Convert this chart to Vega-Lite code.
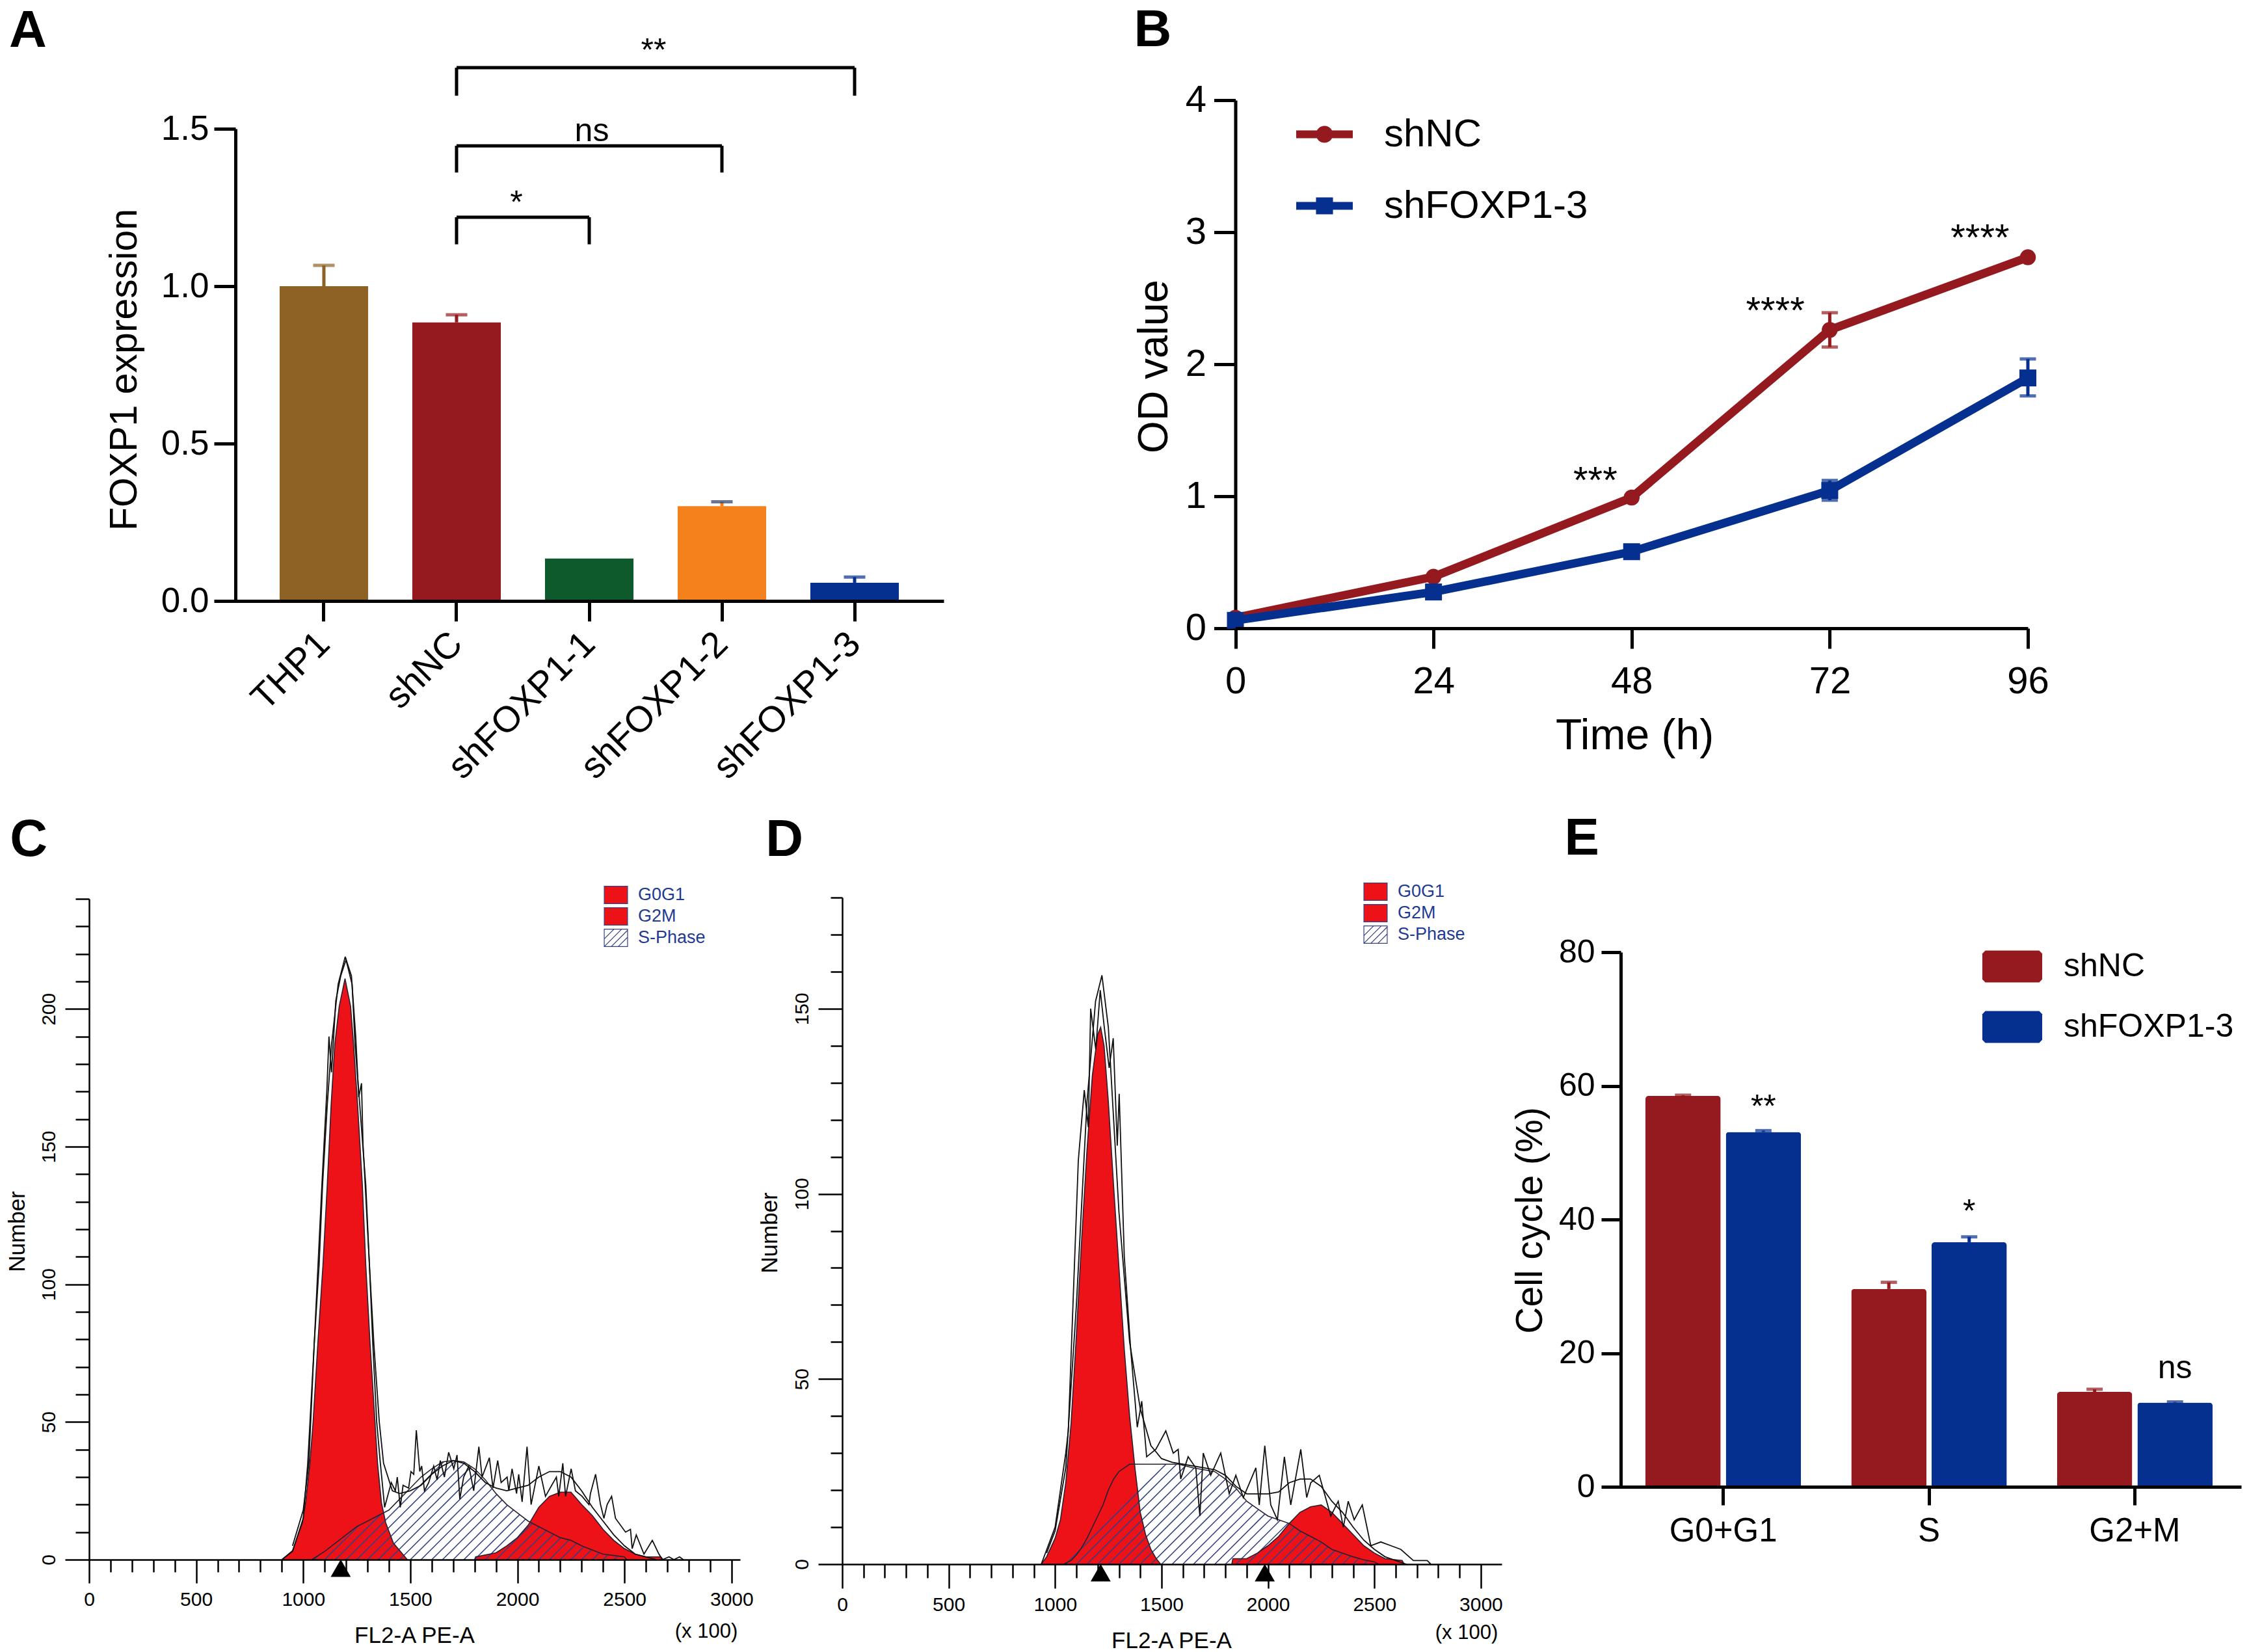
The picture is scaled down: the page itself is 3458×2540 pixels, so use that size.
{
  "$schema": "https://vega.github.io/schema/vega-lite/v6.json",
  "width": 3458, "height": 2540, "autosize": "none", "padding": 0, "background": "white",
  "config": {
    "view": {"stroke": null},
    "axis": {"grid": false, "domainColor": "#000", "tickColor": "#000", "labelColor": "#000", "titleColor": "#000",
      "labelFont": "Liberation Sans", "titleFont": "Liberation Sans", "titleFontWeight": "normal",
      "titleAlign": "center", "titleBaseline": "middle", "labelLimit": 800},
    "legend": {"labelFont": "Liberation Sans", "labelColor": "#000", "padding": 0, "labelLimit": 800},
    "text": {"font": "Liberation Sans", "color": "#000"}
  },
  "datasets": {
    "expr": [
      {"group": "THP1", "value": 1.0, "top": 1.066},
      {"group": "shNC", "value": 0.885, "top": 0.909},
      {"group": "shFOXP1-1", "value": 0.135, "top": 0.135},
      {"group": "shFOXP1-2", "value": 0.301, "top": 0.315},
      {"group": "shFOXP1-3", "value": 0.058, "top": 0.076}
    ],
    "brackets": [
      {"from": "shNC", "to": "shFOXP1-3", "top": 1.694, "drop": 1.605},
      {"from": "shNC", "to": "shFOXP1-2", "top": 1.446, "drop": 1.361},
      {"from": "shNC", "to": "shFOXP1-1", "top": 1.219, "drop": 1.133}
    ],
    "od": [
      {"series": "shNC", "time": 0, "od": 0.08, "low": 0.08, "high": 0.08},
      {"series": "shNC", "time": 24, "od": 0.39, "low": 0.39, "high": 0.39},
      {"series": "shNC", "time": 48, "od": 0.99, "low": 0.99, "high": 0.99},
      {"series": "shNC", "time": 72, "od": 2.26, "low": 2.13, "high": 2.39},
      {"series": "shNC", "time": 96, "od": 2.81, "low": 2.81, "high": 2.81},
      {"series": "shFOXP1-3", "time": 0, "od": 0.06, "low": 0.06, "high": 0.06},
      {"series": "shFOXP1-3", "time": 24, "od": 0.275, "low": 0.275, "high": 0.275},
      {"series": "shFOXP1-3", "time": 48, "od": 0.58, "low": 0.58, "high": 0.58},
      {"series": "shFOXP1-3", "time": 72, "od": 1.044, "low": 0.97, "high": 1.12},
      {"series": "shFOXP1-3", "time": 96, "od": 1.896, "low": 1.76, "high": 2.04}
    ],
    "odStars": [
      {"time": 43.6, "od": 1.108, "label": "***"},
      {"time": 65.4, "od": 2.394, "label": "****"},
      {"time": 90.2, "od": 2.945, "label": "****"}
    ],
    "phasesC": [
      {"phase": "S-Phase", "x": 1040, "y": 0}, {"phase": "S-Phase", "x": 1060, "y": 1}, {"phase": "S-Phase", "x": 1100, "y": 3}, {"phase": "S-Phase", "x": 1150, "y": 6}, {"phase": "S-Phase", "x": 1200, "y": 9}, {"phase": "S-Phase", "x": 1250, "y": 12}, {"phase": "S-Phase", "x": 1300, "y": 14}, {"phase": "S-Phase", "x": 1350, "y": 16}, {"phase": "S-Phase", "x": 1400, "y": 18}, {"phase": "S-Phase", "x": 1450, "y": 22}, {"phase": "S-Phase", "x": 1500, "y": 26}, {"phase": "S-Phase", "x": 1550, "y": 30}, {"phase": "S-Phase", "x": 1600, "y": 33}, {"phase": "S-Phase", "x": 1650, "y": 35.5}, {"phase": "S-Phase", "x": 1700, "y": 36}, {"phase": "S-Phase", "x": 1750, "y": 35.5}, {"phase": "S-Phase", "x": 1800, "y": 33}, {"phase": "S-Phase", "x": 1850, "y": 29}, {"phase": "S-Phase", "x": 1900, "y": 24}, {"phase": "S-Phase", "x": 1950, "y": 20}, {"phase": "S-Phase", "x": 2000, "y": 17}, {"phase": "S-Phase", "x": 2050, "y": 14}, {"phase": "S-Phase", "x": 2100, "y": 12}, {"phase": "S-Phase", "x": 2150, "y": 10}, {"phase": "S-Phase", "x": 2200, "y": 8}, {"phase": "S-Phase", "x": 2250, "y": 7}, {"phase": "S-Phase", "x": 2300, "y": 5}, {"phase": "S-Phase", "x": 2350, "y": 3.5}, {"phase": "S-Phase", "x": 2400, "y": 2}, {"phase": "S-Phase", "x": 2450, "y": 1.5}, {"phase": "S-Phase", "x": 2500, "y": 1}, {"phase": "S-Phase", "x": 2510, "y": 0},
      {"phase": "G0G1", "x": 900, "y": 0}, {"phase": "G0G1", "x": 950, "y": 3.3}, {"phase": "G0G1", "x": 996, "y": 13.4}, {"phase": "G0G1", "x": 1011, "y": 20.7}, {"phase": "G0G1", "x": 1031, "y": 35}, {"phase": "G0G1", "x": 1046, "y": 50}, {"phase": "G0G1", "x": 1068, "y": 78.5}, {"phase": "G0G1", "x": 1092, "y": 107}, {"phase": "G0G1", "x": 1112, "y": 136}, {"phase": "G0G1", "x": 1130, "y": 165}, {"phase": "G0G1", "x": 1147, "y": 187}, {"phase": "G0G1", "x": 1168, "y": 201}, {"phase": "G0G1", "x": 1195, "y": 211}, {"phase": "G0G1", "x": 1221, "y": 201}, {"phase": "G0G1", "x": 1235, "y": 187}, {"phase": "G0G1", "x": 1254, "y": 165}, {"phase": "G0G1", "x": 1276, "y": 136}, {"phase": "G0G1", "x": 1292, "y": 107}, {"phase": "G0G1", "x": 1312, "y": 78.5}, {"phase": "G0G1", "x": 1335, "y": 50}, {"phase": "G0G1", "x": 1347, "y": 35}, {"phase": "G0G1", "x": 1365, "y": 20.7}, {"phase": "G0G1", "x": 1385, "y": 13.4}, {"phase": "G0G1", "x": 1421, "y": 6}, {"phase": "G0G1", "x": 1486, "y": 0},
      {"phase": "G2M", "x": 1800, "y": 0}, {"phase": "G2M", "x": 1805, "y": 1}, {"phase": "G2M", "x": 1900, "y": 2.5}, {"phase": "G2M", "x": 1950, "y": 5}, {"phase": "G2M", "x": 2000, "y": 8}, {"phase": "G2M", "x": 2050, "y": 12.5}, {"phase": "G2M", "x": 2100, "y": 19}, {"phase": "G2M", "x": 2150, "y": 23}, {"phase": "G2M", "x": 2200, "y": 24.5}, {"phase": "G2M", "x": 2250, "y": 24.5}, {"phase": "G2M", "x": 2300, "y": 20}, {"phase": "G2M", "x": 2350, "y": 16}, {"phase": "G2M", "x": 2400, "y": 11}, {"phase": "G2M", "x": 2450, "y": 7}, {"phase": "G2M", "x": 2500, "y": 4}, {"phase": "G2M", "x": 2550, "y": 2}, {"phase": "G2M", "x": 2600, "y": 1}, {"phase": "G2M", "x": 2670, "y": 1}, {"phase": "G2M", "x": 2680, "y": 0}
    ],
    "phasesD": [
      {"phase": "S-Phase", "x": 1040, "y": 0}, {"phase": "S-Phase", "x": 1075, "y": 1}, {"phase": "S-Phase", "x": 1100, "y": 2.5}, {"phase": "S-Phase", "x": 1125, "y": 4.5}, {"phase": "S-Phase", "x": 1150, "y": 7}, {"phase": "S-Phase", "x": 1175, "y": 10}, {"phase": "S-Phase", "x": 1200, "y": 13}, {"phase": "S-Phase", "x": 1225, "y": 16}, {"phase": "S-Phase", "x": 1250, "y": 20}, {"phase": "S-Phase", "x": 1275, "y": 23}, {"phase": "S-Phase", "x": 1300, "y": 25}, {"phase": "S-Phase", "x": 1350, "y": 27}, {"phase": "S-Phase", "x": 1580, "y": 27}, {"phase": "S-Phase", "x": 1650, "y": 26}, {"phase": "S-Phase", "x": 1750, "y": 25}, {"phase": "S-Phase", "x": 1800, "y": 23}, {"phase": "S-Phase", "x": 1850, "y": 20.5}, {"phase": "S-Phase", "x": 1900, "y": 17}, {"phase": "S-Phase", "x": 1950, "y": 15}, {"phase": "S-Phase", "x": 2000, "y": 13}, {"phase": "S-Phase", "x": 2050, "y": 12}, {"phase": "S-Phase", "x": 2100, "y": 11}, {"phase": "S-Phase", "x": 2150, "y": 9}, {"phase": "S-Phase", "x": 2200, "y": 7.5}, {"phase": "S-Phase", "x": 2250, "y": 6}, {"phase": "S-Phase", "x": 2300, "y": 4}, {"phase": "S-Phase", "x": 2350, "y": 3}, {"phase": "S-Phase", "x": 2400, "y": 2}, {"phase": "S-Phase", "x": 2450, "y": 1.2}, {"phase": "S-Phase", "x": 2500, "y": 0.6}, {"phase": "S-Phase", "x": 2520, "y": 0},
      {"phase": "G0G1", "x": 935, "y": 0}, {"phase": "G0G1", "x": 960, "y": 2}, {"phase": "G0G1", "x": 1000, "y": 7}, {"phase": "G0G1", "x": 1025, "y": 12}, {"phase": "G0G1", "x": 1050, "y": 22}, {"phase": "G0G1", "x": 1075, "y": 38}, {"phase": "G0G1", "x": 1100, "y": 62}, {"phase": "G0G1", "x": 1125, "y": 88}, {"phase": "G0G1", "x": 1150, "y": 112}, {"phase": "G0G1", "x": 1175, "y": 132}, {"phase": "G0G1", "x": 1200, "y": 143}, {"phase": "G0G1", "x": 1214, "y": 145}, {"phase": "G0G1", "x": 1230, "y": 140}, {"phase": "G0G1", "x": 1250, "y": 125}, {"phase": "G0G1", "x": 1275, "y": 102}, {"phase": "G0G1", "x": 1300, "y": 80}, {"phase": "G0G1", "x": 1325, "y": 58}, {"phase": "G0G1", "x": 1350, "y": 40}, {"phase": "G0G1", "x": 1375, "y": 26}, {"phase": "G0G1", "x": 1400, "y": 14}, {"phase": "G0G1", "x": 1425, "y": 8}, {"phase": "G0G1", "x": 1450, "y": 4}, {"phase": "G0G1", "x": 1475, "y": 1.5}, {"phase": "G0G1", "x": 1496, "y": 0},
      {"phase": "G2M", "x": 1830, "y": 0}, {"phase": "G2M", "x": 1835, "y": 1.5}, {"phase": "G2M", "x": 1900, "y": 1.5}, {"phase": "G2M", "x": 1950, "y": 3}, {"phase": "G2M", "x": 2000, "y": 5}, {"phase": "G2M", "x": 2050, "y": 7.5}, {"phase": "G2M", "x": 2100, "y": 11}, {"phase": "G2M", "x": 2150, "y": 14}, {"phase": "G2M", "x": 2200, "y": 15.5}, {"phase": "G2M", "x": 2250, "y": 16}, {"phase": "G2M", "x": 2300, "y": 14}, {"phase": "G2M", "x": 2350, "y": 11}, {"phase": "G2M", "x": 2400, "y": 8}, {"phase": "G2M", "x": 2450, "y": 5}, {"phase": "G2M", "x": 2500, "y": 3}, {"phase": "G2M", "x": 2550, "y": 1.5}, {"phase": "G2M", "x": 2630, "y": 1}, {"phase": "G2M", "x": 2640, "y": 0}
    ],
    "hatchC": [
      {"x": 1050, "base": 0, "xEnd": 1070, "yEnd": 1.5}, {"x": 1100, "base": 0, "xEnd": 1260, "yEnd": 12.4}, {"x": 1150, "base": 0, "xEnd": 1362, "yEnd": 16.5}, {"x": 1200, "base": 0, "xEnd": 1657, "yEnd": 35.6}, {"x": 1250, "base": 0, "xEnd": 1712, "yEnd": 35.9}, {"x": 1300, "base": 0, "xEnd": 1755, "yEnd": 35.3}, {"x": 1350, "base": 0, "xEnd": 1785, "yEnd": 33.8}, {"x": 1400, "base": 0, "xEnd": 1813, "yEnd": 32.1}, {"x": 1450, "base": 0, "xEnd": 1836, "yEnd": 30}, {"x": 1500, "base": 0, "xEnd": 1860, "yEnd": 28}, {"x": 1550, "base": 0, "xEnd": 1882, "yEnd": 25.8}, {"x": 1600, "base": 0, "xEnd": 1905, "yEnd": 23.7}, {"x": 1650, "base": 0, "xEnd": 1929, "yEnd": 21.7}, {"x": 1700, "base": 0, "xEnd": 1954, "yEnd": 19.8}, {"x": 1750, "base": 0, "xEnd": 1982, "yEnd": 18.1}, {"x": 1800, "base": 0, "xEnd": 2011, "yEnd": 16.4}, {"x": 1850, "base": 0, "xEnd": 2038, "yEnd": 14.7}, {"x": 1900, "base": 0, "xEnd": 2070, "yEnd": 13.2}, {"x": 1950, "base": 0, "xEnd": 2103, "yEnd": 11.9}, {"x": 2000, "base": 0, "xEnd": 2136, "yEnd": 10.6}, {"x": 2050, "base": 0, "xEnd": 2170, "yEnd": 9.3}, {"x": 2100, "base": 0, "xEnd": 2203, "yEnd": 8}, {"x": 2150, "base": 0, "xEnd": 2242, "yEnd": 7.2}, {"x": 2200, "base": 0, "xEnd": 2276, "yEnd": 5.9}, {"x": 2250, "base": 0, "xEnd": 2310, "yEnd": 4.7}, {"x": 2300, "base": 0, "xEnd": 2346, "yEnd": 3.6}, {"x": 2350, "base": 0, "xEnd": 2383, "yEnd": 2.5}, {"x": 2400, "base": 0, "xEnd": 2422, "yEnd": 1.7}, {"x": 2450, "base": 0, "xEnd": 2468, "yEnd": 1.3}
    ],
    "hatchD": [
      {"x": 1050, "base": 0, "xEnd": 1521, "yEnd": 27}, {"x": 1100, "base": 0, "xEnd": 1571, "yEnd": 27}, {"x": 1150, "base": 0, "xEnd": 1612, "yEnd": 26.5}, {"x": 1200, "base": 0, "xEnd": 1654, "yEnd": 26}, {"x": 1250, "base": 0, "xEnd": 1695, "yEnd": 25.5}, {"x": 1300, "base": 0, "xEnd": 1738, "yEnd": 25.1}, {"x": 1350, "base": 0, "xEnd": 1770, "yEnd": 24.1}, {"x": 1400, "base": 0, "xEnd": 1801, "yEnd": 23}, {"x": 1450, "base": 0, "xEnd": 1825, "yEnd": 21.5}, {"x": 1500, "base": 0, "xEnd": 1853, "yEnd": 20.3}, {"x": 1550, "base": 0, "xEnd": 1876, "yEnd": 18.7}, {"x": 1600, "base": 0, "xEnd": 1897, "yEnd": 17}, {"x": 1650, "base": 0, "xEnd": 1927, "yEnd": 15.9}, {"x": 1700, "base": 0, "xEnd": 1955, "yEnd": 14.7}, {"x": 1750, "base": 0, "xEnd": 1985, "yEnd": 13.5}, {"x": 1800, "base": 0, "xEnd": 2020, "yEnd": 12.6}, {"x": 1850, "base": 0, "xEnd": 2058, "yEnd": 11.9}, {"x": 1900, "base": 0, "xEnd": 2095, "yEnd": 11.1}, {"x": 1950, "base": 0, "xEnd": 2125, "yEnd": 10}, {"x": 2000, "base": 0, "xEnd": 2155, "yEnd": 8.9}, {"x": 2050, "base": 0, "xEnd": 2186, "yEnd": 7.8}, {"x": 2100, "base": 0, "xEnd": 2220, "yEnd": 6.9}, {"x": 2150, "base": 0, "xEnd": 2254, "yEnd": 5.9}, {"x": 2200, "base": 0, "xEnd": 2280, "yEnd": 4.7}, {"x": 2250, "base": 0, "xEnd": 2315, "yEnd": 3.7}, {"x": 2300, "base": 0, "xEnd": 2350, "yEnd": 3}, {"x": 2350, "base": 0, "xEnd": 2388, "yEnd": 2.2}, {"x": 2400, "base": 0, "xEnd": 2425, "yEnd": 1.5}, {"x": 2450, "base": 0, "xEnd": 2468, "yEnd": 1}
    ],
    "fitC": [
      {"x": 950, "y": 5}, {"x": 1000, "y": 18}, {"x": 1026, "y": 35}, {"x": 1051, "y": 78}, {"x": 1074, "y": 107}, {"x": 1090, "y": 136}, {"x": 1112, "y": 165}, {"x": 1132, "y": 187}, {"x": 1163, "y": 209}, {"x": 1196, "y": 219}, {"x": 1228, "y": 209}, {"x": 1242, "y": 187}, {"x": 1264, "y": 165}, {"x": 1292, "y": 136}, {"x": 1309, "y": 107}, {"x": 1330, "y": 78}, {"x": 1355, "y": 50}, {"x": 1375, "y": 35}, {"x": 1416, "y": 25}, {"x": 1450, "y": 24}, {"x": 1500, "y": 25}, {"x": 1550, "y": 27}, {"x": 1600, "y": 31}, {"x": 1650, "y": 34}, {"x": 1700, "y": 36}, {"x": 1750, "y": 35}, {"x": 1800, "y": 32}, {"x": 1850, "y": 28}, {"x": 1900, "y": 26}, {"x": 1950, "y": 25}, {"x": 2000, "y": 26}, {"x": 2050, "y": 27}, {"x": 2100, "y": 30}, {"x": 2150, "y": 32}, {"x": 2200, "y": 32}, {"x": 2250, "y": 30}, {"x": 2300, "y": 25}, {"x": 2350, "y": 19}, {"x": 2400, "y": 14}, {"x": 2450, "y": 9}, {"x": 2500, "y": 5}, {"x": 2550, "y": 2}, {"x": 2600, "y": 1}, {"x": 2650, "y": 0}
    ],
    "fitD": [
      {"x": 960, "y": 3}, {"x": 1000, "y": 9}, {"x": 1050, "y": 26}, {"x": 1100, "y": 70}, {"x": 1150, "y": 125}, {"x": 1190, "y": 152}, {"x": 1220, "y": 159}, {"x": 1250, "y": 145}, {"x": 1300, "y": 95}, {"x": 1350, "y": 60}, {"x": 1400, "y": 42}, {"x": 1450, "y": 32}, {"x": 1500, "y": 28.5}, {"x": 1550, "y": 27.5}, {"x": 1600, "y": 27}, {"x": 1700, "y": 26}, {"x": 1750, "y": 25.5}, {"x": 1800, "y": 24}, {"x": 1850, "y": 21}, {"x": 1900, "y": 19}, {"x": 1950, "y": 19}, {"x": 2000, "y": 19}, {"x": 2050, "y": 19.5}, {"x": 2100, "y": 22}, {"x": 2150, "y": 23}, {"x": 2200, "y": 23}, {"x": 2250, "y": 21}, {"x": 2300, "y": 17}, {"x": 2350, "y": 14}, {"x": 2400, "y": 10}, {"x": 2450, "y": 6.5}, {"x": 2500, "y": 4}, {"x": 2550, "y": 2}, {"x": 2600, "y": 1}, {"x": 2650, "y": 0}
    ],
    "histC": [
      {"x": 900, "y": 0}, {"x": 950, "y": 3}, {"x": 1000, "y": 15}, {"x": 1021, "y": 35}, {"x": 1051, "y": 78}, {"x": 1087, "y": 136}, {"x": 1110, "y": 170}, {"x": 1120, "y": 190}, {"x": 1132, "y": 177}, {"x": 1152, "y": 203}, {"x": 1175, "y": 212}, {"x": 1200, "y": 218}, {"x": 1225, "y": 212}, {"x": 1245, "y": 190}, {"x": 1259, "y": 168}, {"x": 1272, "y": 173}, {"x": 1279, "y": 151}, {"x": 1309, "y": 107}, {"x": 1325, "y": 78}, {"x": 1343, "y": 50}, {"x": 1360, "y": 35}, {"x": 1380, "y": 19},
      {"x": 1411, "y": 28}, {"x": 1430, "y": 25}, {"x": 1439, "y": 30}, {"x": 1453, "y": 19}, {"x": 1466, "y": 27}, {"x": 1492, "y": 26}, {"x": 1503, "y": 32}, {"x": 1516, "y": 31}, {"x": 1528, "y": 47}, {"x": 1544, "y": 32}, {"x": 1553, "y": 34}, {"x": 1566, "y": 25}, {"x": 1586, "y": 28}, {"x": 1609, "y": 34}, {"x": 1625, "y": 29}, {"x": 1640, "y": 36}, {"x": 1659, "y": 30}, {"x": 1679, "y": 39}, {"x": 1703, "y": 33}, {"x": 1718, "y": 38}, {"x": 1731, "y": 22}, {"x": 1749, "y": 30}, {"x": 1773, "y": 34}, {"x": 1796, "y": 25}, {"x": 1820, "y": 41}, {"x": 1835, "y": 30}, {"x": 1869, "y": 37}, {"x": 1886, "y": 26}, {"x": 1908, "y": 36}, {"x": 1924, "y": 28}, {"x": 1952, "y": 30}, {"x": 1960, "y": 25}, {"x": 1975, "y": 33}, {"x": 1996, "y": 24}, {"x": 2006, "y": 31}, {"x": 2022, "y": 21}, {"x": 2045, "y": 41}, {"x": 2064, "y": 20}, {"x": 2100, "y": 34}, {"x": 2131, "y": 23}, {"x": 2182, "y": 30}, {"x": 2193, "y": 23}, {"x": 2212, "y": 35}, {"x": 2225, "y": 23}, {"x": 2251, "y": 33}, {"x": 2271, "y": 25}, {"x": 2302, "y": 23}, {"x": 2334, "y": 20}, {"x": 2341, "y": 24}, {"x": 2365, "y": 31}, {"x": 2388, "y": 20}, {"x": 2404, "y": 15}, {"x": 2419, "y": 20}, {"x": 2440, "y": 23}, {"x": 2458, "y": 15}, {"x": 2505, "y": 10}, {"x": 2528, "y": 11}, {"x": 2536, "y": 4}, {"x": 2555, "y": 9}, {"x": 2591, "y": 2}, {"x": 2630, "y": 7}, {"x": 2661, "y": 2}, {"x": 2677, "y": 0}, {"x": 2708, "y": 1}, {"x": 2731, "y": 0}, {"x": 2757, "y": 1}, {"x": 2775, "y": 0}
    ],
    "histD": [
      {"x": 935, "y": 0}, {"x": 1000, "y": 10}, {"x": 1050, "y": 30}, {"x": 1062, "y": 36}, {"x": 1109, "y": 109}, {"x": 1137, "y": 128}, {"x": 1156, "y": 118}, {"x": 1167, "y": 150}, {"x": 1191, "y": 139}, {"x": 1212, "y": 155}, {"x": 1231, "y": 145}, {"x": 1254, "y": 134}, {"x": 1273, "y": 142}, {"x": 1292, "y": 113}, {"x": 1301, "y": 127}, {"x": 1325, "y": 83}, {"x": 1355, "y": 58}, {"x": 1386, "y": 37}, {"x": 1407, "y": 44}, {"x": 1430, "y": 29}, {"x": 1473, "y": 31}, {"x": 1520, "y": 36}, {"x": 1555, "y": 30}, {"x": 1578, "y": 31}, {"x": 1590, "y": 23}, {"x": 1625, "y": 29}, {"x": 1661, "y": 26}, {"x": 1680, "y": 13}, {"x": 1696, "y": 30}, {"x": 1731, "y": 24}, {"x": 1778, "y": 30}, {"x": 1818, "y": 19}, {"x": 1849, "y": 24}, {"x": 1884, "y": 18}, {"x": 1943, "y": 26}, {"x": 1959, "y": 16}, {"x": 1985, "y": 32}, {"x": 2013, "y": 16}, {"x": 2044, "y": 12}, {"x": 2077, "y": 29}, {"x": 2107, "y": 16}, {"x": 2154, "y": 31}, {"x": 2182, "y": 18}, {"x": 2201, "y": 22}, {"x": 2241, "y": 24}, {"x": 2295, "y": 13}, {"x": 2330, "y": 17}, {"x": 2354, "y": 10}, {"x": 2377, "y": 17}, {"x": 2405, "y": 12}, {"x": 2443, "y": 16}, {"x": 2483, "y": 5}, {"x": 2530, "y": 6}, {"x": 2577, "y": 5}, {"x": 2624, "y": 4}, {"x": 2683, "y": 1}, {"x": 2748, "y": 1}, {"x": 2765, "y": 0}
    ],
    "cycle": [
      {"phase": "G0+G1", "series": "shNC", "value": 58.5, "top": 58.6},
      {"phase": "G0+G1", "series": "shFOXP1-3", "value": 53.1, "top": 53.3},
      {"phase": "S", "series": "shNC", "value": 29.6, "top": 30.6},
      {"phase": "S", "series": "shFOXP1-3", "value": 36.6, "top": 37.4},
      {"phase": "G2+M", "series": "shNC", "value": 14.2, "top": 14.6},
      {"phase": "G2+M", "series": "shFOXP1-3", "value": 12.6, "top": 12.7}
    ],
    "cycleMarks": [
      {"phase": "G0+G1", "series": "shFOXP1-3", "at": 56.7, "label": "**"},
      {"phase": "S", "series": "shFOXP1-3", "at": 41.1, "label": "*"},
      {"phase": "G2+M", "series": "shFOXP1-3", "at": 17.7, "label": "ns"}
    ]
  },
  "layer": [
    {
      "layer": [
        {
          "data": {"name": "expr"},
          "mark": {"type": "bar"},
          "encoding": {
            "x": {"field": "group", "type": "nominal", "sort": null,
              "scale": {"domain": ["THP1", "shNC", "shFOXP1-1", "shFOXP1-2", "shFOXP1-3"], "range": [361, 1451], "paddingInner": 0.333, "paddingOuter": 0.338},
              "axis": {"orient": "bottom", "offset": -1616, "title": null, "zindex": 1, "domainWidth": 5, "tickWidth": 5, "tickSize": 31, "labelFontSize": 56, "labelAngle": -45, "labelAlign": "right", "labelBaseline": "middle", "labelPadding": 26}},
            "y": {"field": "value", "type": "quantitative",
              "scale": {"domain": [0, 1.5], "range": [924, 198], "nice": false},
              "axis": {"orient": "left", "offset": -362, "title": "FOXP1 expression", "titleFontSize": 59, "titleX": -171, "titleY": 568, "values": [0, 0.5, 1, 1.5], "format": ".1f", "domainWidth": 5, "tickWidth": 5, "tickSize": 33, "labelFontSize": 53, "labelPadding": 8}},
            "color": {"field": "group", "type": "nominal", "legend": null,
              "scale": {"domain": ["THP1", "shNC", "shFOXP1-1", "shFOXP1-2", "shFOXP1-3"], "range": ["#8e6125", "#951a20", "#0f5a2d", "#f5811c", "#05308f"]}}
          }
        },
        {
          "data": {"name": "expr"},
          "mark": {"type": "rule", "strokeWidth": 5},
          "encoding": {
            "x": {"field": "group", "type": "nominal"},
            "y": {"field": "value", "type": "quantitative"},
            "y2": {"field": "top"},
            "color": {"field": "group", "type": "nominal", "legend": null}
          }
        },
        {
          "data": {"name": "expr"},
          "transform": [{"filter": "datum.group !== 'shFOXP1-1'"}],
          "mark": {"type": "tick", "size": 33, "thickness": 5},
          "encoding": {
            "x": {"field": "group", "type": "nominal"},
            "y": {"field": "top", "type": "quantitative"},
            "color": {"condition": {"test": "datum.group === 'shFOXP1-2'", "value": "#2b3a6e"}, "field": "group", "type": "nominal", "legend": null}
          }
        },
        {
          "data": {"name": "brackets"},
          "mark": {"type": "rule", "strokeWidth": 5, "color": "#000"},
          "encoding": {
            "x": {"field": "from", "type": "nominal"},
            "x2": {"field": "to"},
            "y": {"field": "top", "type": "quantitative"}
          }
        },
        {
          "data": {"name": "brackets"},
          "mark": {"type": "rule", "strokeWidth": 5, "color": "#000"},
          "encoding": {
            "x": {"field": "from", "type": "nominal"},
            "y": {"field": "drop", "type": "quantitative"},
            "y2": {"field": "top"}
          }
        },
        {
          "data": {"name": "brackets"},
          "mark": {"type": "rule", "strokeWidth": 5, "color": "#000"},
          "encoding": {
            "x": {"field": "to", "type": "nominal"},
            "y": {"field": "drop", "type": "quantitative"},
            "y2": {"field": "top"}
          }
        },
        {
          "data": {"values": [{"group": "shFOXP1-2", "at": 1.745, "label": "**"}]},
          "mark": {"type": "text", "fontSize": 50, "dx": -105},
          "encoding": {"x": {"field": "group", "type": "nominal"}, "y": {"field": "at", "type": "quantitative"}, "text": {"field": "label"}}
        },
        {
          "data": {"values": [{"group": "shFOXP1-1", "at": 1.492, "label": "ns"}]},
          "mark": {"type": "text", "fontSize": 50, "dx": 4},
          "encoding": {"x": {"field": "group", "type": "nominal"}, "y": {"field": "at", "type": "quantitative"}, "text": {"field": "label"}}
        },
        {
          "data": {"values": [{"group": "shFOXP1-1", "at": 1.262, "label": "*"}]},
          "mark": {"type": "text", "fontSize": 50, "dx": -112},
          "encoding": {"x": {"field": "group", "type": "nominal"}, "y": {"field": "at", "type": "quantitative"}, "text": {"field": "label"}}
        },
        {
          "data": {"values": [{"group": "THP1", "at": 1.76, "panel": "A"}]},
          "mark": {"type": "text", "fontSize": 80, "fontWeight": "bold", "align": "left", "baseline": "alphabetic", "dx": -484},
          "encoding": {"x": {"field": "group", "type": "nominal"}, "y": {"field": "at", "type": "quantitative"}, "text": {"field": "panel"}}
        }
      ]
    },
    {
      "layer": [
        {
          "data": {"name": "od"},
          "transform": [{"filter": "false"}],
          "mark": {"type": "point", "filled": true, "opacity": 1},
          "encoding": {
            "color": {"field": "series", "type": "nominal",
              "scale": {"domain": ["shNC", "shFOXP1-3"], "range": ["#951a20", "#05308f"]},
              "legend": {"title": null, "orient": "none", "legendX": 1993, "legendY": 163, "symbolSize": 7569, "symbolStrokeWidth": 0, "labelFontSize": 60, "labelOffset": 48, "rowPadding": 36}},
            "shape": {"field": "series", "type": "nominal",
              "scale": {"domain": ["shNC", "shFOXP1-3"], "range": ["M-1,-0.14H1V0.14H-1Z M-0.3,0A0.3,0.3 0 1 1 0.3,0A0.3,0.3 0 1 1 -0.3,0Z", "M-1,-0.14H1V0.14H-1Z M-0.3,-0.3H0.3V0.3H-0.3Z"]},
              "legend": {"title": null, "orient": "none", "legendX": 1993, "legendY": 163, "symbolSize": 7569, "symbolStrokeWidth": 0, "labelFontSize": 60, "labelOffset": 48, "rowPadding": 36}}
          }
        },
        {
          "data": {"name": "od"},
          "mark": {"type": "line", "strokeWidth": 13},
          "encoding": {
            "x": {"field": "time", "type": "quantitative",
              "scale": {"domain": [0, 96], "range": [1899.5, 3118], "nice": false},
              "axis": {"orient": "bottom", "offset": -1574, "title": "Time (h)", "zindex": 1, "titleFontSize": 66, "titleX": 2513, "titleY": 165, "values": [0, 24, 48, 72, 96], "format": "d", "labelFlush": false, "domainWidth": 5, "tickWidth": 5, "tickSize": 31, "labelFontSize": 58, "labelPadding": 22}},
            "y": {"field": "od", "type": "quantitative",
              "scale": {"domain": [0, 4], "range": [966, 154], "nice": false},
              "axis": {"orient": "left", "offset": -1899.5, "title": "OD value", "titleFontSize": 64, "titleX": -124.5, "titleY": 563, "values": [0, 1, 2, 3, 4], "format": "d", "labelFlush": false, "domainWidth": 5, "tickWidth": 5, "tickSize": 33, "labelFontSize": 58, "labelPadding": 12}},
            "color": {"field": "series", "type": "nominal", "legend": null}
          }
        },
        {
          "data": {"name": "od"},
          "mark": {"type": "rule", "strokeWidth": 5},
          "encoding": {
            "x": {"field": "time", "type": "quantitative"},
            "y": {"field": "low", "type": "quantitative"},
            "y2": {"field": "high"},
            "color": {"field": "series", "type": "nominal", "legend": null}
          }
        },
        {
          "data": {"name": "od"},
          "transform": [{"filter": "datum.high > datum.low"}],
          "mark": {"type": "tick", "orient": "horizontal", "size": 25, "thickness": 5},
          "encoding": {
            "x": {"field": "time", "type": "quantitative"},
            "y": {"field": "low", "type": "quantitative"},
            "color": {"field": "series", "type": "nominal", "legend": null}
          }
        },
        {
          "data": {"name": "od"},
          "transform": [{"filter": "datum.high > datum.low"}],
          "mark": {"type": "tick", "orient": "horizontal", "size": 25, "thickness": 5},
          "encoding": {
            "x": {"field": "time", "type": "quantitative"},
            "y": {"field": "high", "type": "quantitative"},
            "color": {"field": "series", "type": "nominal", "legend": null}
          }
        },
        {
          "data": {"name": "od"},
          "transform": [{"filter": "datum.series === 'shNC'"}],
          "mark": {"type": "point", "shape": "circle", "filled": true, "opacity": 1, "size": 600},
          "encoding": {
            "x": {"field": "time", "type": "quantitative"},
            "y": {"field": "od", "type": "quantitative"},
            "color": {"field": "series", "type": "nominal", "legend": null}
          }
        },
        {
          "data": {"name": "od"},
          "transform": [{"filter": "datum.series === 'shFOXP1-3'"}],
          "mark": {"type": "point", "shape": "square", "filled": true, "opacity": 1, "size": 676},
          "encoding": {
            "x": {"field": "time", "type": "quantitative"},
            "y": {"field": "od", "type": "quantitative"},
            "color": {"field": "series", "type": "nominal", "legend": null}
          }
        },
        {
          "data": {"name": "odStars"},
          "mark": {"type": "text", "fontSize": 58},
          "encoding": {"x": {"field": "time", "type": "quantitative"}, "y": {"field": "od", "type": "quantitative"}, "text": {"field": "label"}}
        },
        {
          "data": {"values": [{"time": -12.3, "od": 4.41, "panel": "B"}]},
          "mark": {"type": "text", "fontSize": 80, "fontWeight": "bold", "align": "left", "baseline": "alphabetic"},
          "encoding": {"x": {"field": "time", "type": "quantitative"}, "y": {"field": "od", "type": "quantitative"}, "text": {"field": "panel"}}
        }
      ]
    },
    {
      "layer": [
        {
          "data": {"name": "phasesC"},
          "transform": [{"filter": "false"}],
          "mark": {"type": "point", "filled": true, "opacity": 1},
          "encoding": {
            "color": {"field": "phase", "type": "nominal",
              "scale": {"domain": ["G0G1", "G2M", "S-Phase"], "range": ["#ec1217", "#ec1217", "#ffffff"]},
              "legend": {"title": null, "orient": "none", "legendX": 930, "legendY": 1359, "symbolSize": 1063, "symbolStrokeWidth": 1.2, "symbolStrokeColor": "#33417f", "labelFontSize": 27, "labelColor": "#1f3a93", "labelOffset": 17, "rowPadding": 0}},
            "shape": {"field": "phase", "type": "nominal",
              "scale": {"domain": ["G0G1", "G2M", "S-Phase"], "range": ["M-1.1,-0.82H1.1V0.82H-1.1Z", "M-1.1,-0.82H1.1V0.82H-1.1Z", "M-1.1,-0.82H1.1V0.82H-1.1Z M-1.1,0.1L-0.18,-0.82 M-1.1,0.82L0.54,-0.82 M-0.44,0.82L1.1,-0.72 M0.22,0.82L1.1,-0.06"]},
              "legend": {"title": null, "orient": "none", "legendX": 930, "legendY": 1359, "symbolSize": 1063, "symbolStrokeWidth": 1.2, "symbolStrokeColor": "#33417f", "labelFontSize": 27, "labelColor": "#1f3a93", "labelOffset": 17, "rowPadding": 0}}
          }
        },
        {
          "data": {"name": "phasesC"},
          "mark": {"type": "area", "interpolate": "linear"},
          "encoding": {
            "x": {"field": "x", "type": "quantitative",
              "scale": {"domain": [0, 3040], "range": [137, 1138], "nice": false},
              "axis": {"orient": "bottom", "offset": -142, "title": "FL2-A PE-A", "zindex": 1, "titleFontSize": 35, "titleX": 637, "titleY": 116,
                "values": [0,100,200,300,400,500,600,700,800,900,1000,1100,1200,1300,1400,1500,1600,1700,1800,1900,2000,2100,2200,2300,2400,2500,2600,2700,2800,2900,3000],
                "labelExpr": "datum.value % 500 === 0 ? datum.label : ''", "format": "d", "labelFlush": false, "labelOverlap": false, "labelFontSize": 30, "labelPadding": 10, "domainWidth": 2.5, "tickWidth": 2.5,
                "tickSize": {"condition": {"test": "datum.value % 500 === 0", "value": 36}, "value": 19}}},
            "y": {"field": "y", "type": "quantitative", "stack": null,
              "scale": {"domain": [0, 240], "range": [2398, 1382], "nice": false},
              "axis": {"orient": "left", "offset": -137, "title": "Number", "titleFontSize": 35, "titleX": -111, "titleY": 1893,
                "values": [0,10,20,30,40,50,60,70,80,90,100,110,120,130,140,150,160,170,180,190,200,210,220,230,240],
                "labelExpr": "datum.value % 50 === 0 ? datum.label : ''", "format": "d", "labelFlush": false, "labelOverlap": false, "labelFontSize": 30, "labelAngle": -90, "labelAlign": "center", "labelBaseline": "bottom", "labelPadding": 10, "domainWidth": 2.5, "tickWidth": 2.5,
                "tickSize": {"condition": {"test": "datum.value % 50 === 0", "value": 37}, "value": 21}}},
            "color": {"field": "phase", "type": "nominal", "legend": null}
          }
        },
        {
          "data": {"name": "hatchC"},
          "mark": {"type": "rule", "strokeWidth": 1.6, "color": "#33417f"},
          "encoding": {
            "x": {"field": "x", "type": "quantitative"},
            "y": {"field": "base", "type": "quantitative"},
            "x2": {"field": "xEnd"},
            "y2": {"field": "yEnd"}
          }
        },
        {
          "data": {"name": "phasesC"},
          "mark": {"type": "line", "strokeWidth": 1.6, "color": "#2a2030"},
          "encoding": {
            "x": {"field": "x", "type": "quantitative"},
            "y": {"field": "y", "type": "quantitative"},
            "detail": {"field": "phase"}
          }
        },
        {
          "data": {"name": "fitC"},
          "mark": {"type": "line", "strokeWidth": 1.8, "color": "#111"},
          "encoding": {"x": {"field": "x", "type": "quantitative"}, "y": {"field": "y", "type": "quantitative"}}
        },
        {
          "data": {"name": "histC"},
          "mark": {"type": "line", "strokeWidth": 1.8, "color": "#111"},
          "encoding": {"x": {"field": "x", "type": "quantitative"}, "y": {"field": "y", "type": "quantitative"}}
        },
        {
          "data": {"values": [{"gate": 1175, "at": -3.1}]},
          "mark": {"type": "point", "shape": "triangle-up", "filled": true, "opacity": 1, "color": "#000", "size": 950},
          "encoding": {"x": {"field": "gate", "type": "quantitative"}, "y": {"field": "at", "type": "quantitative"}}
        },
        {
          "data": {"values": [{"x": 2882, "y": -26.2, "note": "(x 100)"}]},
          "mark": {"type": "text", "fontSize": 31},
          "encoding": {"x": {"field": "x", "type": "quantitative"}, "y": {"field": "y", "type": "quantitative"}, "text": {"field": "note"}}
        },
        {
          "data": {"values": [{"x": -370, "y": 255.6, "panel": "C"}]},
          "mark": {"type": "text", "fontSize": 80, "fontWeight": "bold", "align": "left", "baseline": "alphabetic"},
          "encoding": {"x": {"field": "x", "type": "quantitative"}, "y": {"field": "y", "type": "quantitative"}, "text": {"field": "panel"}}
        }
      ]
    },
    {
      "layer": [
        {
          "data": {"name": "phasesD"},
          "transform": [{"filter": "false"}],
          "mark": {"type": "point", "filled": true, "opacity": 1},
          "encoding": {
            "color": {"field": "phase", "type": "nominal",
              "scale": {"domain": ["G0G1", "G2M", "S-Phase"], "range": ["#ec1217", "#ec1217", "#ffffff"]},
              "legend": {"title": null, "orient": "none", "legendX": 2098, "legendY": 1354, "symbolSize": 1063, "symbolStrokeWidth": 1.2, "symbolStrokeColor": "#33417f", "labelFontSize": 27, "labelColor": "#1f3a93", "labelOffset": 17, "rowPadding": 0}},
            "shape": {"field": "phase", "type": "nominal",
              "scale": {"domain": ["G0G1", "G2M", "S-Phase"], "range": ["M-1.1,-0.82H1.1V0.82H-1.1Z", "M-1.1,-0.82H1.1V0.82H-1.1Z", "M-1.1,-0.82H1.1V0.82H-1.1Z M-1.1,0.1L-0.18,-0.82 M-1.1,0.82L0.54,-0.82 M-0.44,0.82L1.1,-0.72 M0.22,0.82L1.1,-0.06"]},
              "legend": {"title": null, "orient": "none", "legendX": 2098, "legendY": 1354, "symbolSize": 1063, "symbolStrokeWidth": 1.2, "symbolStrokeColor": "#33417f", "labelFontSize": 27, "labelColor": "#1f3a93", "labelOffset": 17, "rowPadding": 0}}
          }
        },
        {
          "data": {"name": "phasesD"},
          "mark": {"type": "area", "interpolate": "linear"},
          "encoding": {
            "x": {"field": "x", "type": "quantitative",
              "scale": {"domain": [0, 3098], "range": [1295, 2309], "nice": false},
              "axis": {"orient": "bottom", "offset": -135, "title": "FL2-A PE-A", "zindex": 1, "titleFontSize": 35, "titleX": 1801, "titleY": 117,
                "values": [0,100,200,300,400,500,600,700,800,900,1000,1100,1200,1300,1400,1500,1600,1700,1800,1900,2000,2100,2200,2300,2400,2500,2600,2700,2800,2900,3000],
                "labelExpr": "datum.value % 500 === 0 ? datum.label : ''", "format": "d", "labelFlush": false, "labelOverlap": false, "labelFontSize": 30, "labelPadding": 10, "domainWidth": 2.5, "tickWidth": 2.5,
                "tickSize": {"condition": {"test": "datum.value % 500 === 0", "value": 37}, "value": 21}}},
            "y": {"field": "y", "type": "quantitative", "stack": null,
              "scale": {"domain": [0, 180], "range": [2405, 1380], "nice": false},
              "axis": {"orient": "left", "offset": -1295, "title": "Number", "titleFontSize": 35, "titleX": -112, "titleY": 1895,
                "values": [0,10,20,30,40,50,60,70,80,90,100,110,120,130,140,150,160,170,180],
                "labelExpr": "datum.value % 50 === 0 ? datum.label : ''", "format": "d", "labelFlush": false, "labelOverlap": false, "labelFontSize": 30, "labelAngle": -90, "labelAlign": "center", "labelBaseline": "bottom", "labelPadding": 10, "domainWidth": 2.5, "tickWidth": 2.5,
                "tickSize": {"condition": {"test": "datum.value % 50 === 0", "value": 37}, "value": 18}}},
            "color": {"field": "phase", "type": "nominal", "legend": null}
          }
        },
        {
          "data": {"name": "hatchD"},
          "mark": {"type": "rule", "strokeWidth": 1.6, "color": "#33417f"},
          "encoding": {
            "x": {"field": "x", "type": "quantitative"},
            "y": {"field": "base", "type": "quantitative"},
            "x2": {"field": "xEnd"},
            "y2": {"field": "yEnd"}
          }
        },
        {
          "data": {"name": "phasesD"},
          "mark": {"type": "line", "strokeWidth": 1.6, "color": "#2a2030"},
          "encoding": {
            "x": {"field": "x", "type": "quantitative"},
            "y": {"field": "y", "type": "quantitative"},
            "detail": {"field": "phase"}
          }
        },
        {
          "data": {"name": "fitD"},
          "mark": {"type": "line", "strokeWidth": 1.8, "color": "#111"},
          "encoding": {"x": {"field": "x", "type": "quantitative"}, "y": {"field": "y", "type": "quantitative"}}
        },
        {
          "data": {"name": "histD"},
          "mark": {"type": "line", "strokeWidth": 1.8, "color": "#111"},
          "encoding": {"x": {"field": "x", "type": "quantitative"}, "y": {"field": "y", "type": "quantitative"}}
        },
        {
          "data": {"values": [{"gate": 1214, "at": -2.3}, {"gate": 1985, "at": -2.3}]},
          "mark": {"type": "point", "shape": "triangle-up", "filled": true, "opacity": 1, "color": "#000", "size": 950},
          "encoding": {"x": {"field": "gate", "type": "quantitative"}, "y": {"field": "at", "type": "quantitative"}}
        },
        {
          "data": {"values": [{"x": 2933, "y": -18.6, "note": "(x 100)"}]},
          "mark": {"type": "text", "fontSize": 31},
          "encoding": {"x": {"field": "x", "type": "quantitative"}, "y": {"field": "y", "type": "quantitative"}, "text": {"field": "note"}}
        },
        {
          "data": {"values": [{"x": -360, "y": 191.3, "panel": "D"}]},
          "mark": {"type": "text", "fontSize": 80, "fontWeight": "bold", "align": "left", "baseline": "alphabetic"},
          "encoding": {"x": {"field": "x", "type": "quantitative"}, "y": {"field": "y", "type": "quantitative"}, "text": {"field": "panel"}}
        }
      ]
    },
    {
      "layer": [
        {
          "data": {"name": "cycle"},
          "mark": {"type": "bar", "cornerRadiusTopLeft": 5, "cornerRadiusTopRight": 5},
          "encoding": {
            "x": {"field": "phase", "type": "nominal", "sort": null,
              "scale": {"domain": ["G0+G1", "S", "G2+M"], "range": [2486, 3446], "paddingInner": 0.244, "paddingOuter": 0.139},
              "axis": {"orient": "bottom", "offset": -254, "title": null, "zindex": 1, "labelAngle": 0, "domainWidth": 5, "tickWidth": 5, "tickSize": 28, "labelFontSize": 51, "labelPadding": 15}},
            "xOffset": {"field": "series", "type": "nominal", "scale": {"domain": ["shNC", "shFOXP1-3"], "paddingInner": 0.064}},
            "y": {"field": "value", "type": "quantitative",
              "scale": {"domain": [0, 80], "range": [2286, 1464], "nice": false},
              "axis": {"orient": "left", "offset": -2492, "title": "Cell cycle (%)", "titleFontSize": 57, "titleX": -139, "titleY": 1876, "values": [0, 20, 40, 60, 80], "format": "d", "domainWidth": 5, "tickWidth": 5, "tickSize": 30, "labelFontSize": 50, "labelPadding": 10}},
            "color": {"field": "series", "type": "nominal",
              "scale": {"domain": ["shNC", "shFOXP1-3"], "range": ["#951a20", "#05308f"]},
              "legend": {"title": null, "orient": "none", "legendX": 3048, "legendY": 1440, "symbolSize": 8464, "symbolStrokeWidth": 0, "symbolOpacity": 1, "labelFontSize": 50, "labelOffset": 33, "rowPadding": 22,
                "symbolType": "M-0.9,-0.533H0.9L1,-0.43V0.43L0.9,0.533H-0.9L-1,0.43V-0.43Z"}}
          }
        },
        {
          "data": {"name": "cycle"},
          "mark": {"type": "rule", "strokeWidth": 5},
          "encoding": {
            "x": {"field": "phase", "type": "nominal"},
            "xOffset": {"field": "series", "type": "nominal"},
            "y": {"field": "value", "type": "quantitative"},
            "y2": {"field": "top"},
            "color": {"field": "series", "type": "nominal", "legend": null}
          }
        },
        {
          "data": {"name": "cycle"},
          "mark": {"type": "tick", "size": 25, "thickness": 5},
          "encoding": {
            "x": {"field": "phase", "type": "nominal"},
            "xOffset": {"field": "series", "type": "nominal"},
            "y": {"field": "top", "type": "quantitative"},
            "color": {"field": "series", "type": "nominal", "legend": null}
          }
        },
        {
          "data": {"name": "cycleMarks"},
          "mark": {"type": "text", "fontSize": 50},
          "encoding": {
            "x": {"field": "phase", "type": "nominal"},
            "xOffset": {"field": "series", "type": "nominal"},
            "y": {"field": "at", "type": "quantitative"},
            "text": {"field": "label"}
          }
        },
        {
          "data": {"values": [{"phase": "G0+G1", "at": 94.6, "panel": "E"}]},
          "mark": {"type": "text", "fontSize": 80, "fontWeight": "bold", "align": "left", "baseline": "alphabetic", "dx": -244},
          "encoding": {"x": {"field": "phase", "type": "nominal"}, "y": {"field": "at", "type": "quantitative"}, "text": {"field": "panel"}}
        }
      ]
    }
  ],
  "resolve": {
    "scale": {"x": "independent", "y": "independent", "color": "independent", "shape": "independent", "xOffset": "independent"},
    "axis": {"x": "independent", "y": "independent"},
    "legend": {"color": "independent", "shape": "independent"}
  }
}
